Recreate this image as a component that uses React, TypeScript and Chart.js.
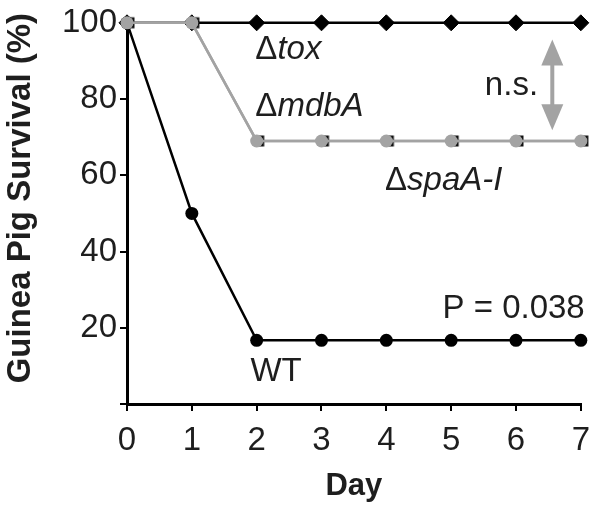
import React, { useEffect, useRef } from "react";
import { Chart, registerables } from "chart.js";

Chart.register(...registerables);

const days = [0, 1, 2, 3, 4, 5, 6, 7];
const toxSurvival = [100, 100, 100, 100, 100, 100, 100, 100];
const wtSurvival = [100, 50, 16.7, 16.7, 16.7, 16.7, 16.7, 16.7];
const mdbASurvival = [100, 100, 69, 69, 69, 69, 69, 69];
const spaASurvival = [100, 100, 69, 69, 69, 69, 69, 69];
const yTicks = [0, 20, 40, 60, 80, 100];
const yTitle = "Guinea Pig Survival (%)";
const xTitle = "Day";

const strainLabels = [
  { delta: "Δ", name: "tox", x: 1.98, y: 93, italic: true, align: "left" },
  { delta: "Δ", name: "mdbA", x: 1.98, y: 78, italic: true, align: "left" },
  { delta: "Δ", name: "spaA-I", x: 3.98, y: 58.5, italic: true, align: "left" },
  { delta: "", name: "n.s.", x: 5.93, y: 83.5, italic: false, align: "center" },
  { delta: "", name: "P = 0.038", x: 7.06, y: 25, italic: false, align: "right" },
  { delta: "", name: "WT", x: 2.3, y: 8.5, italic: false, align: "center" },
];
const nsArrow = { x: 6.56, yTop: 95.6, yBottom: 71.8 };

const GRAY = "#a3a3a3";
const TEXT = "#1e1e1e";
const FONT = "'Liberation Sans', Arial, sans-serif";
const FS = 33;

function makeSquareMarker(): HTMLCanvasElement {
  const c = document.createElement("canvas");
  c.width = 22;
  c.height = 14;
  const ctx = c.getContext("2d")!;
  ctx.fillStyle = "#111";
  ctx.fillRect(12, 1.5, 6.5, 11);
  ctx.fillStyle = "#8a8a8a";
  ctx.fillRect(12, 4.5, 5, 5);
  return c;
}

const annotationPlugin = {
  id: "annotations",
  afterDatasetsDraw(chart: any) {
    const { ctx, scales } = chart;
    const xs = scales.x;
    const ys = scales.y;
    ctx.save();
    ctx.fillStyle = TEXT;
    ctx.textBaseline = "middle";
    for (const l of strainLabels) {
      const px = xs.getPixelForValue(l.x);
      const py = ys.getPixelForValue(l.y);
      const upright = `${FS}px ${FONT}`;
      const rest = `${l.italic ? "italic " : ""}${FS}px ${FONT}`;
      ctx.font = upright;
      const w1 = l.delta ? ctx.measureText(l.delta).width : 0;
      ctx.font = rest;
      const w2 = ctx.measureText(l.name).width;
      const total = w1 + w2;
      let start = px;
      if (l.align === "center") start = px - total / 2;
      if (l.align === "right") start = px - total;
      ctx.textAlign = "left";
      if (l.delta) {
        ctx.font = upright;
        ctx.fillText(l.delta, start, py);
      }
      ctx.font = rest;
      ctx.fillText(l.name, start + w1, py);
    }
    // y-axis title
    ctx.save();
    ctx.font = `bold 33px ${FONT}`;
    ctx.textAlign = "center";
    ctx.textBaseline = "middle";
    ctx.translate(21, ys.getPixelForValue(54));
    ctx.rotate(-Math.PI / 2);
    ctx.fillText(yTitle, 0, 0);
    ctx.restore();
    // n.s. arrow
    const ax = xs.getPixelForValue(nsArrow.x);
    const top = ys.getPixelForValue(nsArrow.yTop);
    const bot = ys.getPixelForValue(nsArrow.yBottom);
    const headH = 26;
    const headW = 11;
    ctx.fillStyle = GRAY;
    ctx.strokeStyle = GRAY;
    ctx.lineWidth = 4;
    ctx.beginPath();
    ctx.moveTo(ax, top + headH - 2);
    ctx.lineTo(ax, bot - headH + 2);
    ctx.stroke();
    ctx.beginPath();
    ctx.moveTo(ax, top);
    ctx.lineTo(ax - headW, top + headH);
    ctx.lineTo(ax + headW, top + headH);
    ctx.closePath();
    ctx.fill();
    ctx.beginPath();
    ctx.moveTo(ax, bot);
    ctx.lineTo(ax - headW, bot - headH);
    ctx.lineTo(ax + headW, bot - headH);
    ctx.closePath();
    ctx.fill();
    ctx.restore();
  },
};

export default function App() {
  const ref = useRef<HTMLCanvasElement | null>(null);
  useEffect(() => {
    document.body.style.margin = "0";
    const toPts = (vals: number[]) => days.map((d, i) => ({ x: d, y: vals[i] }));
    const chart = new Chart(ref.current!, {
      type: "line",
      data: {
        datasets: [
          {
            label: "ΔmdbA",
            data: toPts(mdbASurvival),
            borderColor: GRAY,
            backgroundColor: GRAY,
            borderWidth: 2.5,
            pointStyle: "circle",
            pointRadius: 6.5,
            pointBorderWidth: 0,
            clip: false,
          },
          {
            label: "ΔspaA-I",
            data: toPts(spaASurvival),
            borderColor: GRAY,
            backgroundColor: GRAY,
            borderWidth: 2.5,
            pointStyle: makeSquareMarker() as any,
            clip: false,
          },
          {
            label: "WT",
            data: toPts(wtSurvival),
            borderColor: "#000",
            backgroundColor: "#000",
            borderWidth: 2.5,
            pointStyle: "circle",
            pointRadius: 6.5,
            pointBorderWidth: 0,
            clip: false,
          },
          {
            label: "Δtox",
            data: toPts(toxSurvival),
            borderColor: "#000",
            backgroundColor: "#000",
            borderWidth: 2.5,
            pointStyle: "rectRot",
            pointRadius: 8,
            pointBorderWidth: 1,
            pointBorderColor: "#000",
            clip: false,
          },
        ],
      },
      options: {
        animation: false,
        responsive: false,
        maintainAspectRatio: false,
        layout: { padding: { top: 19, right: 15, left: 0, bottom: 0 } },
        plugins: { legend: { display: false }, tooltip: { enabled: false } },
        scales: {
          x: {
            type: "linear",
            min: 0,
            max: 7,
            afterFit: (s: any) => {
              s.height = 105;
            },
            border: { display: true, color: "#000", width: 3 },
            grid: { drawOnChartArea: false, drawTicks: true, tickLength: 7, color: "#000", lineWidth: 2 },
            ticks: {
              stepSize: 1,
              color: TEXT,
              padding: 10,
              font: { family: FONT, size: FS },
              maxRotation: 0,
            },
            title: {
              display: true,
              text: xTitle,
              color: TEXT,
              font: { family: FONT, size: 31, weight: "bold" },
              padding: { top: 0, bottom: 4 },
            },
          },
          y: {
            type: "linear",
            min: 0,
            max: 100,
            afterFit: (s: any) => {
              s.width = 127;
            },
            afterBuildTicks: (s: any) => {
              s.ticks = yTicks.map((v) => ({ value: v }));
            },
            border: { display: true, color: "#000", width: 3 },
            grid: { drawOnChartArea: false, drawTicks: true, tickLength: 7, color: "#000", lineWidth: 2 },
            ticks: {
              color: TEXT,
              padding: 3,
              font: { family: FONT, size: FS },
              callback: (v: any) => (v === 0 ? "" : String(v)),
            },
            title: { display: false },
          },
        },
      },
      plugins: [annotationPlugin],
    } as any);
    return () => chart.destroy();
  }, []);
  return (
    <div style={{ width: 600, height: 509 }}>
      <canvas ref={ref} width={600} height={509} style={{ display: "block" }} />
    </div>
  );
}
